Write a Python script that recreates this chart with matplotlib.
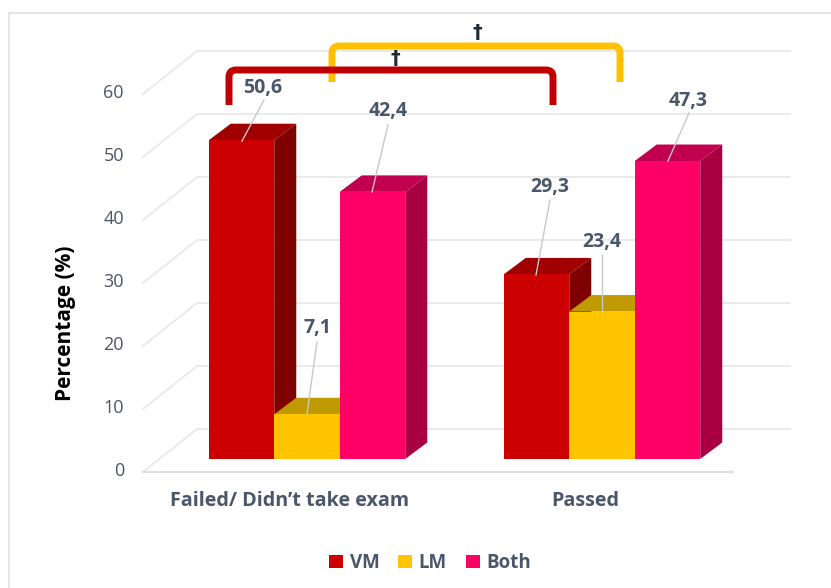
import matplotlib
matplotlib.use("Agg")
import matplotlib.pyplot as plt
from matplotlib.patches import Patch, PathPatch, Polygon
from matplotlib.path import Path

categories = ["Failed/ Didn\u2019t take exam", "Passed"]
series_names = ["VM", "LM", "Both"]
vm_values = [50.6, 29.3]
lm_values = [7.1, 23.4]
both_values = [42.4, 47.3]
value_labels = [["50,6", "29,3"], ["7,1", "23,4"], ["42,4", "47,3"]]
y_ticks = [0, 10, 20, 30, 40, 50, 60]

W, H = 831, 588
PX_PER_VALUE = 6.3
PX_PER_GROUP = 295.0
ZERO_PX = 459
FIRST_GROUP_PX = 307

front_colors = ["#CC0000", "#FFC600", "#FF0066"]
side_colors = ["#7E0000", "#A07800", "#A80040"]
top_colors = ["#A00000", "#BF9A00", "#C20050"]
text_color = "#4A566A"
grid_color = "#EAEAEA"


def px(x):
    return (x - FIRST_GROUP_PX) / PX_PER_GROUP


def py(y):
    return (ZERO_PX - y) / PX_PER_VALUE


plt.rcParams["font.family"] = "Open Sans"
fig = plt.figure(figsize=(W / 100, H / 100), dpi=100)
ax = fig.add_axes([0, 0, 1, 1])
ax.set_xlim(px(0), px(W))
ax.set_ylim(py(H), py(0))
ax.axis("off")

# slide frame
ax.plot([px(9), px(9), px(W)], [py(H), py(13), py(13)], color="#E6E6E6", lw=1.6)

# floor and walls of the 3d box
back = 30 / PX_PER_VALUE
front = -13 / PX_PER_VALUE
for v in y_ticks:
    ax.plot([px(197), px(790)], [v + back, v + back], color=grid_color, lw=1.4, zorder=1)
    ax.plot([px(143), px(197)], [v + front, v + back], color=grid_color, lw=1.4, zorder=1)
ax.plot([px(143), px(733)], [front, front], color="#DDE1E6", lw=1.5, zorder=1)

bar_w = 65.5 / PX_PER_GROUP
depth_x = 22 / PX_PER_GROUP
depth_y = 16.5 / PX_PER_VALUE
all_values = [vm_values, lm_values, both_values]

# left to right so each bar hides the side of the previous one
zo = 2
for g in range(len(categories)):
    for s, values in enumerate(all_values):
        v = values[g]
        x0 = g + (s - 1.5) * bar_w
        x1 = x0 + bar_w
        ax.add_patch(Polygon([(x1, 0), (x1 + depth_x, depth_y), (x1 + depth_x, v + depth_y), (x1, v)],
                             facecolor=side_colors[s], edgecolor="none", zorder=zo))
        ax.add_patch(Polygon([(x0, v), (x0 + depth_x, v + depth_y), (x1 + depth_x, v + depth_y), (x1, v)],
                             facecolor=top_colors[s], edgecolor="none", zorder=zo))
        ax.bar(x0, v, width=bar_w, align="edge", color=front_colors[s], zorder=zo)
        zo += 1

# value labels and their leader lines
label_pos = [[(263, 85), (550, 184)], [(317, 326), (602, 240)], [(388, 108), (688, 98)]]
leaders = [[((264, 100), (242, 141)), ((550, 200), (536, 275))],
           [((317, 342), (307, 414)), ((602, 255), (602, 311))],
           [((388, 125), (372, 192)), ((689, 113), (668, 161))]]
for s in range(3):
    for g in range(2):
        a, b = leaders[s][g]
        ax.plot([px(a[0]), px(b[0])], [py(a[1]), py(b[1])], color="#C4C8CC", lw=1, zorder=20)
        ax.text(px(label_pos[s][g][0]), py(label_pos[s][g][1]), value_labels[s][g],
                ha="center", va="center_baseline", fontsize=14, fontweight="bold", color=text_color, zorder=21)

# significance brackets
def bracket(x0, x1, top, bottom, color, zorder):
    r = 7
    verts = [(x0, bottom), (x0, top + r), (x0, top), (x0 + r, top),
             (x1 - r, top), (x1, top), (x1, top + r), (x1, bottom)]
    codes = [Path.MOVETO, Path.LINETO, Path.CURVE3, Path.CURVE3,
             Path.LINETO, Path.CURVE3, Path.CURVE3, Path.LINETO]
    path = Path([(px(x), py(y)) for x, y in verts], codes)
    ax.add_patch(PathPatch(path, facecolor="none", edgecolor=color, lw=5, capstyle="butt", zorder=zorder))


bracket(332, 620, 46, 82, "#FFC000", 22)
bracket(229, 553, 70, 105, "#C00000", 23)
ax.text(px(395), py(58), "\u2020", ha="center", va="center", fontsize=14, fontweight="bold",
        family="DejaVu Sans", color="#222B35", zorder=24)
ax.text(px(477), py(32), "\u2020", ha="center", va="center", fontsize=14, fontweight="bold",
        family="DejaVu Sans", color="#222B35", zorder=24)

# axis text
for v in y_ticks:
    ax.text(px(124), v + front + 3 / PX_PER_VALUE, str(v), ha="right", va="center_baseline",
            fontsize=13, color=text_color)
ax.text(px(65), py(323), "Percentage (%)", rotation=90, ha="center", va="center",
        fontsize=15, fontweight="bold", color="black")
for g, name in enumerate(categories):
    ax.text(g - 17 / PX_PER_GROUP, py(501), name, ha="center", va="center",
            fontsize=14.2, fontweight="bold", color=text_color)

handles = [Patch(facecolor=c, label=n) for c, n in zip(front_colors, series_names)]
leg = ax.legend(handles=handles, ncol=3, loc="center", bbox_to_anchor=(430 / W, 1 - 563 / H),
                frameon=False, handlelength=0.75, handleheight=0.75, handletextpad=0.35,
                columnspacing=1.0, prop={"family": "Open Sans", "weight": "bold", "size": 13.5})
for t in leg.get_texts():
    t.set_color(text_color)

fig.savefig("out.png", dpi=100)
